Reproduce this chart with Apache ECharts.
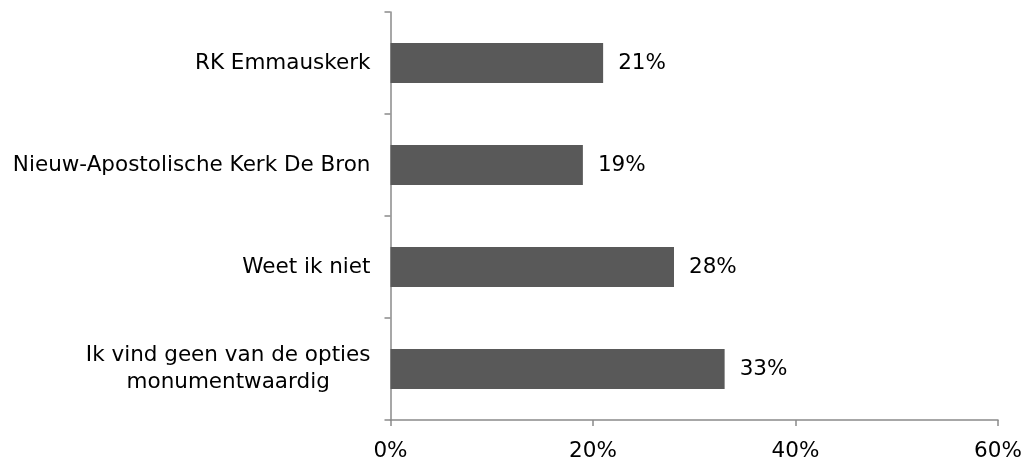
<!DOCTYPE html>
<html><head><meta charset="utf-8">
<script src="https://cdn.jsdelivr.net/npm/echarts@6/dist/echarts.min.js"></script>
<style>html,body{margin:0;padding:0;background:#fff}#c{width:1029px;height:462px}</style>
</head><body><div id="c"></div>
<script>
const categories = ["RK Emmauskerk", "Nieuw-Apostolische Kerk De Bron", "Weet ik niet", "Ik vind geen van de opties\nmonumentwaardig"];
const values = [21, 19, 28, 33];
const xTicks = [0, 20, 40, 60];

const FONT = "DejaVu Sans, Verdana, sans-serif";
const FS = 21.5;
const AX = '#8a8a8a';
const chart = echarts.init(document.getElementById('c'));
chart.setOption({
  animation: false,
  grid: { left: 390.5, right: 31, top: 12, bottom: 39.5, containLabel: false },
  xAxis: {
    type: 'value', min: xTicks[0], max: xTicks[xTicks.length - 1], interval: 20,
    axisLine: { show: true, lineStyle: { color: AX, width: 1.5 } },
    axisTick: { show: true, length: 6, lineStyle: { color: AX, width: 1.5 } },
    splitLine: { show: false },
    axisLabel: { formatter: v => v + '%', color: '#000', fontFamily: FONT, fontSize: FS, margin: 20 }
  },
  yAxis: {
    type: 'category', data: categories, inverse: true,
    axisLine: { show: true, lineStyle: { color: AX, width: 1.5 } },
    axisTick: { show: true, length: 6, alignWithLabel: false, lineStyle: { color: AX, width: 1.5 } },
    axisLabel: {
      color: '#000', fontFamily: FONT, fontSize: FS, margin: 20, lineHeight: 27, align: 'right',
      formatter: v => v.split('\n').map(s => '{c|' + s + '}').join('\n'),
      rich: { c: { align: 'center', color: '#000', fontFamily: FONT, fontSize: FS, lineHeight: 27 } }
    }
  },
  series: [{
    type: 'bar', data: values, barWidth: 40,
    itemStyle: { color: '#595959' },
    label: { show: true, position: 'right', distance: 15, formatter: p => p.value + '%', color: '#000', fontFamily: FONT, fontSize: FS }
  }]
});
</script></body></html>
